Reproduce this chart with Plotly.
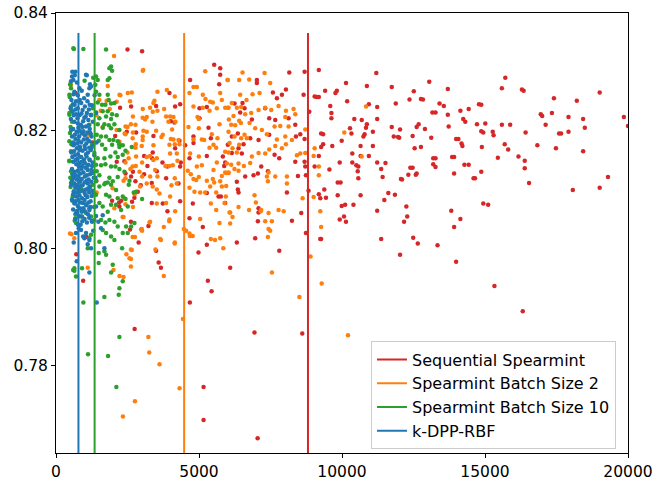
import plotly.graph_objects as go

# ---------------- data ----------------
series_names = ["Sequential Spearmint", "Spearmint Batch Size 2",
                "Spearmint Batch Size 10", "k-DPP-RBF"]
series_colors = ["#d62728", "#ff7f0e", "#2ca02c", "#1f77b4"]

# vertical marker positions (x) for each series
vline_x = [8810, 4480, 1350, 785]
vline_y = [0.760, 0.8366]

x_ticks = [0, 5000, 10000, 15000, 20000]
y_ticks = [0.78, 0.80, 0.82, 0.84]

red_pts = [
    (19855, 0.8223), (20000, 0.8208), (19300, 0.8121), (19010, 0.8265), (19010, 0.8103),
    (18430, 0.8165), (18490, 0.8205), (18430, 0.8220), (18210, 0.8251), (17920, 0.8198),
    (17920, 0.8223), (18070, 0.8099), (17590, 0.8195), (17660, 0.8195), (17480, 0.8170),
    (17410, 0.8255), (17340, 0.8230), (17120, 0.8210), (17000, 0.8225), (16950, 0.8228),
    (16830, 0.8175), (16540, 0.8111), (16390, 0.8149), (16390, 0.8136), (16420, 0.8197),
    (16320, 0.7893), (16290, 0.8270), (16350, 0.8268), (16170, 0.8156), (15880, 0.8210),
    (15810, 0.8168), (15690, 0.8177), (15710, 0.8290), (15590, 0.8272), (15590, 0.8210),
    (15300, 0.8192), (15330, 0.7936), (15270, 0.8198), (15450, 0.8154), (15010, 0.8212),
    (14940, 0.8197), (14870, 0.8199), (14890, 0.8172), (14870, 0.8244), (14790, 0.8245),
    (14870, 0.8130), (14940, 0.8076), (15110, 0.8074), (14720, 0.8211), (14650, 0.8119),
    (14600, 0.8119), (14430, 0.8237), (14280, 0.8142), (14430, 0.8142), (14240, 0.8220),
    (14310, 0.8215), (14140, 0.8050), (13920, 0.8036), (14140, 0.8234), (14180, 0.8178),
    (14210, 0.8174), (13990, 0.7977), (13920, 0.8155), (13920, 0.8127), (14070, 0.8186),
    (13990, 0.8186), (13820, 0.8064), (13700, 0.8227), (13730, 0.8207), (13700, 0.8271),
    (13850, 0.8155), (13560, 0.8242), (13410, 0.8246), (13340, 0.8005), (13270, 0.8231),
    (13160, 0.8231), (13270, 0.8153), (13190, 0.8153), (13190, 0.8143), (13270, 0.8138),
    (13120, 0.8188), (13050, 0.8283), (12760, 0.8254), (12830, 0.8253), (12900, 0.8203),
    (12760, 0.8172), (12610, 0.8127), (12610, 0.8206), (12680, 0.8211), (12650, 0.8008),
    (12490, 0.8018), (12580, 0.8125), (12470, 0.8137), (12390, 0.8137), (12360, 0.8253),
    (12510, 0.8267), (12540, 0.8170), (12470, 0.8191), (12320, 0.8125), (12280, 0.8054),
    (12250, 0.8071), (12170, 0.8045), (12100, 0.8117), (12060, 0.8118), (12030, 0.7989),
    (12000, 0.8188), (11960, 0.8189), (12030, 0.8202), (11880, 0.8246), (11850, 0.8091),
    (11740, 0.8206), (11740, 0.8274), (11810, 0.8190), (11620, 0.8094), (11520, 0.8145),
    (11480, 0.8082), (11420, 0.8121), (11370, 0.8135), (11370, 0.8016), (11230, 0.8240),
    (11230, 0.8220), (11230, 0.8146), (11230, 0.8064), (11200, 0.8298), (11080, 0.8198),
    (11080, 0.8174), (10940, 0.8245), (10940, 0.8157), (10840, 0.8205), (10870, 0.8211),
    (10790, 0.8194), (10870, 0.8276), (10750, 0.8190), (10690, 0.8218), (10650, 0.8174),
    (10650, 0.8090), (10650, 0.8157), (10570, 0.8119), (10570, 0.8139), (10550, 0.8131),
    (10500, 0.8141), (10360, 0.8161), (10360, 0.8146), (10400, 0.8074), (10330, 0.8195),
    (10280, 0.8204), (10430, 0.8220), (10140, 0.8281), (10180, 0.8250), (9990, 0.8183),
    (10070, 0.8054), (10140, 0.8045), (10110, 0.8074), (9990, 0.8072), (9950, 0.8112),
    (9850, 0.8112), (9920, 0.8049), (9820, 0.8268), (9770, 0.8264), (9920, 0.8146),
    (9850, 0.8090), (9630, 0.8221), (9630, 0.8230), (9590, 0.8242), (9660, 0.8174),
    (9560, 0.8134), (9410, 0.8268), (9440, 0.8086), (9380, 0.8100), (9270, 0.8172),
    (9270, 0.8195), (9240, 0.8085), (9190, 0.8092), (9270, 0.8016), (9240, 0.8016),
    (9190, 0.8257), (9120, 0.8257), (9190, 0.8303), (9340, 0.8194), (9340, 0.8177),
    (9190, 0.8157), (8856, 0.8232), (8830, 0.8098),
    # 2900 - 9050 region
    (7024, 0.8286), (7024, 0.8281), (8156, 0.8299), (8692, 0.8300), (8657, 0.8261),
    (9043, 0.8258), (7584, 0.8265), (7724, 0.8255), (7899, 0.8261), (8039, 0.8270),
    (6522, 0.8247), (6242, 0.8246), (6440, 0.8231), (6592, 0.8238), (7315, 0.8238),
    (7455, 0.8221), (7666, 0.8218), (8132, 0.8221), (8366, 0.8210), (6849, 0.8219),
    (6148, 0.8190), (6358, 0.8195), (6790, 0.8187), (7082, 0.8184), (7455, 0.8193),
    (8389, 0.8190), (8541, 0.8194), (8692, 0.8186), (6557, 0.8177), (6382, 0.8170),
    (6008, 0.8176), (6148, 0.8162), (6498, 0.8161), (7642, 0.8159), (7806, 0.8153),
    (8366, 0.8147), (8692, 0.8147), (8716, 0.8139), (8459, 0.8123), (8739, 0.8124),
    (9043, 0.8139), (7175, 0.8139), (7409, 0.8131), (6615, 0.8122), (6907, 0.8124),
    (7059, 0.8127), (6323, 0.8113), (6358, 0.8100), (6382, 0.8095), (8074, 0.8095),
    (5915, 0.8077), (7082, 0.8068), (7082, 0.8061), (8576, 0.8060), (8249, 0.8047),
    (7059, 0.8046), (8739, 0.8026), (6965, 0.8017), (6323, 0.8010), (7806, 0.7996),
    (3967, 0.8264), (3500, 0.8242), (4165, 0.8241), (4340, 0.8245), (4014, 0.8216),
    (4142, 0.8214), (3407, 0.8191), (4317, 0.8183), (4165, 0.8170), (3080, 0.8157),
    (3383, 0.8163), (3360, 0.8153), (3722, 0.8146), (3897, 0.8139), (3197, 0.8140),
    (3080, 0.8126), (3524, 0.8131), (3850, 0.8119), (4364, 0.8146), (4340, 0.8139),
    (4515, 0.8175), (3349, 0.8111), (4282, 0.8110), (2963, 0.8107), (3349, 0.8077),
    (3734, 0.8076), (4340, 0.8080), (3897, 0.8063), (3232, 0.8038), (3500, 0.7996),
    (4690, 0.8286), (5531, 0.8312), (5741, 0.8306), (5706, 0.8279), (5741, 0.8295),
    (5017, 0.8238), (5274, 0.8240), (5017, 0.8221), (5332, 0.8205), (4807, 0.8190),
    (5414, 0.8187), (5274, 0.8157), (5834, 0.8156), (5916, 0.8146), (4667, 0.8153),
    (4807, 0.8179), (5274, 0.8094), (5682, 0.8088), (5764, 0.8088), (4784, 0.8076),
    (4667, 0.8051), (5134, 0.8036), (5274, 0.8006), (4982, 0.7993), (5881, 0.8140),
    (3010, 0.8335),
    # low outliers in the middle
    (7050, 0.7677), (6940, 0.7857), (6090, 0.7967), (5440, 0.7927), (5310, 0.7945),
    (5160, 0.7764), (5160, 0.7708), (4680, 0.7908), (3670, 0.7967), (3590, 0.7976),
    (8610, 0.7855),
    # left part
    (2890, 0.8010), (2750, 0.7863), (2690, 0.8130), (2620, 0.8045), (2500, 0.8338),
    (2430, 0.8127), (2280, 0.8081), (2210, 0.8078), (2070, 0.8191), (1410, 0.8115),
    (1270, 0.8180), (950, 0.7945), (710, 0.7990), (680, 0.8264), (1190, 0.8104),
    (2240, 0.8239), (2626, 0.8241), (2474, 0.8198), (2800, 0.8197), (2392, 0.8148),
    (2124, 0.8147), (2626, 0.8122), (2777, 0.8114), (1961, 0.8081), (2217, 0.8071),
    (2742, 0.8086), (2859, 0.8096), (2660, 0.8079), (2590, 0.8032), (1074, 0.8019),
]

orange_pts = [
    (3033, 0.8302), (3547, 0.8266), (3874, 0.8269), (4154, 0.8258), (3442, 0.8251),
    (3407, 0.8247), (3290, 0.8239), (3033, 0.8237), (3547, 0.8234), (3383, 0.8232),
    (3780, 0.8237), (3173, 0.8223), (3115, 0.8219), (3372, 0.8215), (3850, 0.8224),
    (3990, 0.8224), (4107, 0.8223), (3932, 0.8215), (4177, 0.8215), (3057, 0.8200),
    (3173, 0.8198), (3500, 0.8200), (4060, 0.8202), (3734, 0.8193), (3687, 0.8189),
    (3033, 0.8190), (4014, 0.8186), (4107, 0.8185), (4282, 0.8184), (3407, 0.8175),
    (2998, 0.8174), (3967, 0.8176), (4154, 0.8177), (4317, 0.8177), (3990, 0.8161),
    (3290, 0.8157), (3173, 0.8155), (4224, 0.8161), (3524, 0.8153), (3967, 0.8140),
    (3827, 0.8140), (4084, 0.8141), (4247, 0.8149), (3010, 0.8146), (3407, 0.8150),
    (3465, 0.8133), (3010, 0.8122), (3290, 0.8122), (3547, 0.8122), (4154, 0.8119),
    (4037, 0.8107), (4224, 0.8110), (3173, 0.8110), (3383, 0.8105), (3524, 0.8100),
    (3617, 0.8093), (3990, 0.8088), (3850, 0.8077), (3524, 0.8076), (4165, 0.8063),
    (3290, 0.8045), (3967, 0.8049), (3640, 0.8016), (4154, 0.8010), (3477, 0.7998),
    (2998, 0.8033), (2940, 0.8105),
    (4807, 0.8274), (4924, 0.8274), (4667, 0.8264), (5134, 0.8261), (5391, 0.8249),
    (5227, 0.8254), (5484, 0.8248), (5998, 0.8286), (5216, 0.8301), (5741, 0.8264),
    (4807, 0.8241), (5134, 0.8239), (5367, 0.8234), (5624, 0.8238), (5916, 0.8239),
    (6033, 0.8239), (5799, 0.8252), (4947, 0.8223), (4994, 0.8220), (5717, 0.8211),
    (6044, 0.8219), (4632, 0.8206), (4994, 0.8204), (5449, 0.8194), (5099, 0.8185),
    (5181, 0.8184), (4807, 0.8185), (5647, 0.8187), (5507, 0.8176), (5367, 0.8171),
    (5601, 0.8171), (4690, 0.8161), (4994, 0.8156), (6068, 0.8179), (5624, 0.8146),
    (5099, 0.8141), (4924, 0.8139), (4609, 0.8132), (4714, 0.8126), (4807, 0.8118),
    (4994, 0.8121), (4901, 0.8116), (5274, 0.8115), (5484, 0.8118), (5391, 0.8105),
    (5531, 0.8112), (4667, 0.8103), (4842, 0.8096), (5041, 0.8095), (5216, 0.8095),
    (5601, 0.8095), (5951, 0.8128), (6033, 0.8128), (5799, 0.8123), (5507, 0.8133),
    (5741, 0.8114), (5799, 0.8105), (5951, 0.8106), (5414, 0.8076), (5041, 0.8050),
    (4667, 0.8025), (5717, 0.8043), (5414, 0.8016), (5741, 0.8017), (6068, 0.8061),
    (5601, 0.8065), (5893, 0.8077), (4550, 0.8030),
    (6522, 0.8299), (6405, 0.8286), (6755, 0.8287), (7292, 0.8298), (7490, 0.8281),
    (6008, 0.8286), (6440, 0.8261), (6872, 0.8262), (7117, 0.8264), (6148, 0.8247),
    (6662, 0.8252), (6008, 0.8239), (6323, 0.8239), (6475, 0.8240), (7082, 0.8235),
    (6207, 0.8225), (6405, 0.8217), (6615, 0.8228), (6825, 0.8230), (7315, 0.8239),
    (7525, 0.8235), (7782, 0.8242), (8039, 0.8234), (8307, 0.8237), (8366, 0.8228),
    (8016, 0.8223), (6125, 0.8210), (6265, 0.8209), (6464, 0.8213), (6767, 0.8213),
    (6965, 0.8204), (6032, 0.8198), (6592, 0.8193), (6242, 0.8190), (6475, 0.8187),
    (6674, 0.8187), (7199, 0.8201), (7374, 0.8194), (7642, 0.8207), (7841, 0.8208),
    (8132, 0.8207), (7724, 0.8185), (8016, 0.8190), (8249, 0.8184), (8716, 0.8202),
    (6405, 0.8176), (6172, 0.8170), (5915, 0.8164), (6032, 0.8163), (6323, 0.8163),
    (6849, 0.8156), (7082, 0.8162), (7315, 0.8161), (7455, 0.8168), (7666, 0.8174),
    (7899, 0.8170), (8039, 0.8177), (8424, 0.8158), (8541, 0.8161), (5973, 0.8144),
    (6125, 0.8142), (6382, 0.8144), (6569, 0.8140), (6790, 0.8145), (5915, 0.8129),
    (6032, 0.8129), (6242, 0.8135), (6382, 0.8132), (7432, 0.8129), (7374, 0.8122),
    (7409, 0.8114), (7666, 0.8122), (8074, 0.8122), (8074, 0.8110), (5938, 0.8088),
    (6942, 0.8090), (6989, 0.8078), (7175, 0.8065), (7432, 0.8060), (7782, 0.8065),
    (6382, 0.8070), (6090, 0.8061), (6172, 0.8053), (7315, 0.8046), (7549, 0.8046),
    (7432, 0.8033), (7409, 0.8019), (8622, 0.8085), (9008, 0.8087), (9008, 0.8157),
    (9043, 0.8170), (8716, 0.8162),
    # right of the dense part
    (10210, 0.7852), (10840, 0.8241), (10690, 0.8156), (10080, 0.8197), (9290, 0.7940),
    (9270, 0.8036), (9240, 0.8063), (9190, 0.8124), (9190, 0.8139), (8900, 0.7986),
    (8510, 0.7917), (7550, 0.7959),
    # low outliers
    (3230, 0.7849), (3260, 0.7823), (3620, 0.7803), (2760, 0.7740), (2340, 0.7714),
    (4320, 0.7762), (4440, 0.7880), (3770, 0.7953), (2620, 0.7982), (2620, 0.7969),
    (2360, 0.7951), (2460, 0.7990), (2650, 0.7997), (2760, 0.8019), (3010, 0.8030),
    (3270, 0.8044), (3670, 0.8014), (3770, 0.8036), (3960, 0.8046), (4150, 0.8008),
    (4470, 0.8033), (4680, 0.8021), (4780, 0.8021), (5560, 0.8014), (5850, 0.8000),
    (6090, 0.8042), (6750, 0.8065), (7160, 0.8063), (7490, 0.8030), (7960, 0.8063),
    # left part
    (2030, 0.8327), (3050, 0.8303), (2250, 0.8260), (2650, 0.8265), (2690, 0.8224),
    (2620, 0.8211), (2500, 0.8206), (2400, 0.8195), (2690, 0.8197), (2790, 0.8177),
    (2500, 0.8163), (2430, 0.8146), (2600, 0.8135), (2790, 0.8140), (2360, 0.8115),
    (2750, 0.8092), (2430, 0.8075), (2690, 0.8070), (2360, 0.8053), (1560, 0.8234),
    (1770, 0.8251), (1880, 0.8237), (1410, 0.8226), (1630, 0.8206), (510, 0.8277),
    (540, 0.8024), (1110, 0.7967), (490, 0.8025), (640, 0.8017), (1420, 0.8095),
    (2010, 0.7963), (2220, 0.7953), (2570, 0.7983), (2680, 0.8019), (2620, 0.7998),
    (2975, 0.8032), (2330, 0.8053), (1980, 0.8102), (2040, 0.8068), (2390, 0.8085),
    (525, 0.8278), (1810, 0.8276), (2220, 0.8261), (2510, 0.8264), (2590, 0.8250),
    (1515, 0.8252), (2120, 0.8249), (2430, 0.8207), (2780, 0.8210), (3030, 0.8222),
    (2680, 0.8187), (3030, 0.8184), (2780, 0.8171), (2220, 0.8181), (2120, 0.8201),
    (2430, 0.8194), (2540, 0.8153), (2680, 0.8139), (2920, 0.8130), (2800, 0.8156),
    (2430, 0.8119), (1110, 0.8193),
]

green_pts = [
    (607, 0.8340), (957, 0.8339), (1750, 0.8338), (1926, 0.8309), (1867, 0.8306),
    (1961, 0.8302), (1400, 0.8292), (1459, 0.8286), (1377, 0.8278), (1809, 0.8286),
    (1867, 0.8289), (525, 0.8272), (467, 0.8261), (1400, 0.8266), (1517, 0.8261),
    (1809, 0.8261), (1844, 0.8252), (1459, 0.8248), (1610, 0.8244), (1727, 0.8244),
    (1926, 0.8246), (2042, 0.8247), (1634, 0.8233), (1809, 0.8233), (1750, 0.8224),
    (1961, 0.8228), (1926, 0.8220), (2124, 0.8226), (1400, 0.8231), (1517, 0.8221),
    (1459, 0.8211), (1692, 0.8211), (1634, 0.8205), (1844, 0.8209), (1926, 0.8204),
    (2042, 0.8211), (2217, 0.8201), (1424, 0.8193), (1575, 0.8190), (1750, 0.8190),
    (1867, 0.8184), (2007, 0.8184), (2159, 0.8182), (1494, 0.8183), (1610, 0.8176),
    (1727, 0.8169), (1961, 0.8176), (2217, 0.8172), (2334, 0.8175), (2077, 0.8163),
    (1342, 0.8162), (1459, 0.8153), (1692, 0.8153), (1902, 0.8156), (2159, 0.8155),
    (2334, 0.8159), (1400, 0.8142), (1575, 0.8141), (1727, 0.8143), (1926, 0.8139),
    (2077, 0.8139), (2217, 0.8135), (2392, 0.8130), (1424, 0.8131), (1517, 0.8124),
    (1867, 0.8120), (2159, 0.8121), (1400, 0.8114), (1727, 0.8111), (1984, 0.8114),
    (525, 0.8241), (467, 0.8227), (560, 0.8215), (490, 0.8196), (467, 0.8182),
    (525, 0.8165), (467, 0.8148), (525, 0.8131), (560, 0.8114), (1225, 0.8227),
    (1284, 0.8238), (1167, 0.8210), (1225, 0.8193), (1260, 0.8176), (1167, 0.8151),
    (1260, 0.8131),
    (525, 0.8111), (584, 0.8088), (700, 0.8102), (1284, 0.8108), (1400, 0.8091),
    (1517, 0.8105), (1692, 0.8109), (1809, 0.8112), (1926, 0.8108), (2101, 0.8099),
    (2544, 0.8108), (2801, 0.8096), (1750, 0.8091), (1867, 0.8088), (2159, 0.8085),
    (2334, 0.8088), (1517, 0.8077), (1634, 0.8071), (1809, 0.8062), (1926, 0.8074),
    (2101, 0.8074), (2276, 0.8065), (2509, 0.8071), (700, 0.8043), (677, 0.8051),
    (875, 0.8054), (1225, 0.8054), (1342, 0.8048), (1575, 0.8048), (1727, 0.8044),
    (1867, 0.8048), (2042, 0.8045), (2159, 0.8037), (2451, 0.8037), (2626, 0.8037),
    (2742, 0.8043), (1634, 0.8031), (1750, 0.8026), (1517, 0.8011), (1926, 0.8020),
    (2042, 0.8014), (2334, 0.8026), (2509, 0.8026), (642, 0.7966), (642, 0.7962),
    (700, 0.7952), (910, 0.7966), (1494, 0.7992), (1692, 0.7995), (1750, 0.7989),
    (1494, 0.7975), (1984, 0.7972), (1926, 0.7959), (2311, 0.8000), (2334, 0.7944),
    (2217, 0.7932), (2194, 0.7921), (1692, 0.7917), (957, 0.7908), (2217, 0.7849),
    (1225, 0.8023), (1167, 0.8017), (1109, 0.8000),
    (1820, 0.7817), (1120, 0.7820), (2110, 0.7764), (625, 0.8339), (2720, 0.8095),
    (2430, 0.8084), (2570, 0.8115), (2430, 0.8166), (2650, 0.8172), (2210, 0.8177),
    (3010, 0.8084), (495, 0.8279), (480, 0.8257), (540, 0.8234), (510, 0.8206),
    (540, 0.8177), (465, 0.8149), (570, 0.8127), (510, 0.8104), (570, 0.8081),
    (680, 0.8058), (655, 0.8047), (600, 0.7963), (500, 0.8120), (470, 0.8230),
    (1000, 0.8285), (1100, 0.8140), (1050, 0.8060), (900, 0.8100), (1300, 0.8290),
]

blue_pts = [
    (560, 0.8292), (607, 0.8286), (1050, 0.8295), (1167, 0.8272), (1225, 0.8275),
    (677, 0.8300), (525, 0.8284), (642, 0.8266), (1109, 0.8261), (1260, 0.8243),
    (570, 0.8300), (655, 0.8294), (1075, 0.8294), (730, 0.8282), (1190, 0.8279),
    (820, 0.8272), (900, 0.8268), (760, 0.8260), (980, 0.8255), (700, 0.8250),
    (610, 0.8262), (880, 0.8247), (1010, 0.8241), (1150, 0.8236), (540, 0.8252),
    (650, 0.8244), (760, 0.8238), (930, 0.8235), (1080, 0.8230), (1220, 0.8226),
    (580, 0.8232), (700, 0.8228), (820, 0.8226), (990, 0.8222), (1130, 0.8218),
    (1290, 0.8215), (520, 0.8220), (640, 0.8215), (760, 0.8212), (870, 0.8210),
    (950, 0.8216), (1050, 0.8207), (1180, 0.8203), (600, 0.8203), (720, 0.8198),
    (830, 0.8200), (910, 0.8195), (1010, 0.8192), (1100, 0.8197), (1240, 0.8190),
    (560, 0.8190), (680, 0.8186), (790, 0.8183), (880, 0.8180), (970, 0.8185),
    (1060, 0.8178), (1160, 0.8182), (1300, 0.8176), (610, 0.8175), (730, 0.8170),
    (840, 0.8172), (930, 0.8166), (1020, 0.8169), (1120, 0.8163), (1220, 0.8167),
    (540, 0.8163), (660, 0.8158), (770, 0.8160), (880, 0.8155), (980, 0.8151),
    (1070, 0.8156), (1180, 0.8150), (1280, 0.8146), (600, 0.8147), (710, 0.8143),
    (820, 0.8145), (920, 0.8140), (1030, 0.8137), (1130, 0.8142), (1240, 0.8133),
    (560, 0.8135), (650, 0.8130), (760, 0.8132), (860, 0.8127), (960, 0.8129),
    (1080, 0.8124), (1190, 0.8126), (1320, 0.8120), (620, 0.8120), (720, 0.8117),
    (810, 0.8114), (900, 0.8118), (1000, 0.8112), (1110, 0.8110), (1230, 0.8113),
    (540, 0.8108), (670, 0.8104), (780, 0.8101), (870, 0.8106), (950, 0.8098),
    (1050, 0.8100), (1160, 0.8095), (1280, 0.8098), (600, 0.8092), (700, 0.8088),
    (820, 0.8090), (910, 0.8085), (1000, 0.8082), (1100, 0.8087), (1210, 0.8080),
    (650, 0.8076), (760, 0.8072), (860, 0.8078), (960, 0.8068), (1060, 0.8073),
    (1170, 0.8065), (1330, 0.8070), (700, 0.8060), (800, 0.8055), (900, 0.8062),
    (1000, 0.8050), (1120, 0.8058), (1250, 0.8047),
    (590, 0.8245), (830, 0.8252), (1100, 0.8250), (680, 0.8236), (890, 0.8229),
    (1040, 0.8224), (1180, 0.8244), (510, 0.8238), (620, 0.8226), (750, 0.8221),
    (920, 0.8206), (1140, 0.8209), (530, 0.8201), (660, 0.8193), (780, 0.8205),
    (960, 0.8199), (1200, 0.8196), (590, 0.8180), (700, 0.8178), (810, 0.8190),
    (1000, 0.8174), (1090, 0.8186), (1250, 0.8172), (630, 0.8165), (750, 0.8152),
    (860, 0.8167), (1050, 0.8160), (1160, 0.8171), (1340, 0.8158), (570, 0.8155),
    (690, 0.8150), (800, 0.8139), (900, 0.8147), (1010, 0.8145), (1110, 0.8133),
    (1260, 0.8140), (580, 0.8125), (690, 0.8124), (790, 0.8121), (890, 0.8135),
    (1010, 0.8122), (1140, 0.8117), (1290, 0.8128), (560, 0.8115), (640, 0.8110),
    (740, 0.8108), (840, 0.8113), (930, 0.8107), (1070, 0.8115), (1190, 0.8105),
    (620, 0.8097), (730, 0.8095), (850, 0.8097), (1000, 0.8094), (1130, 0.8102),
    (1250, 0.8089), (560, 0.8083), (680, 0.8080), (780, 0.8082), (940, 0.8077),
    (1040, 0.8090), (1140, 0.8078), (600, 0.8066), (740, 0.8064), (840, 0.8068),
    (1010, 0.8063), (1200, 0.8070), (680, 0.8050), (920, 0.8046), (1080, 0.8044),
    (770, 0.8040), (1160, 0.8052),
    (642, 0.8077), (700, 0.8026), (794, 0.8034), (875, 0.8031), (1050, 0.8026),
    (992, 0.8017), (1167, 0.8014), (1225, 0.8000), (1109, 0.8007), (724, 0.7978),
    (1692, 0.8000), (1424, 0.7908), (1167, 0.7959), (1634, 0.8056), (1400, 0.8055),
    (1575, 0.8034), (1260, 0.8045), (1167, 0.8068), (1050, 0.8075), (910, 0.8054),
    (1400, 0.8071), (1144, 0.8099), (1307, 0.8093), (860, 0.8040), (950, 0.8020),
    (620, 0.8010), (1300, 0.8030), (1480, 0.8045), (1380, 0.8120), (1420, 0.8180),
    (1400, 0.8230), (1350, 0.8260),
]

all_pts = [red_pts, orange_pts, green_pts, blue_pts]

# ---------------- figure ----------------
fig = go.Figure()

for name, color, pts in zip(series_names, series_colors, all_pts):
    fig.add_trace(go.Scatter(
        x=[p[0] for p in pts], y=[p[1] for p in pts],
        mode="markers", name=name, showlegend=False,
        marker=dict(color=color, size=4.5, line=dict(width=0)),
        hoverinfo="skip",
    ))

for i, (name, color, vx) in enumerate(zip(series_names, series_colors, vline_x)):
    fig.add_trace(go.Scatter(
        x=[vx, vx], y=vline_y, mode="lines", name=name,
        line=dict(color=color, width=2),
        legendgroup="g%d" % i, legendrank=i + 1,
    ))

axis_common = dict(
    showgrid=False, zeroline=False, showline=True, linecolor="black",
    linewidth=1, mirror=True, ticks="outside", ticklen=4, tickcolor="black",
    tickfont=dict(family="DejaVu Sans", size=15.5, color="black"),
    automargin=False, ticklabeloverflow="allow",
)

fig.update_layout(
    width=652, height=477,
    margin=dict(l=56, r=24, t=13, b=24),
    paper_bgcolor="white", plot_bgcolor="white",
    font=dict(family="DejaVu Sans", size=16, color="black"),
    xaxis=dict(range=[0, 20000], tickvals=x_ticks, tickformat="d", **axis_common),
    yaxis=dict(range=[0.7652, 0.84], tickvals=y_ticks, tickformat=".2f", **axis_common),
    legend=dict(
        x=0.979, y=0.008, xanchor="right", yanchor="bottom",
        bgcolor="rgba(255,255,255,0.85)", bordercolor="#cccccc", borderwidth=1,
        font=dict(family="DejaVu Sans", size=16, color="black"),
        tracegroupgap=0, traceorder="normal",
    ),
    showlegend=True,
)

fig.write_html(
    "out.html",
    config={"displayModeBar": False},
    post_script="document.body.style.margin='0px';document.body.style.padding='0px';",
)
